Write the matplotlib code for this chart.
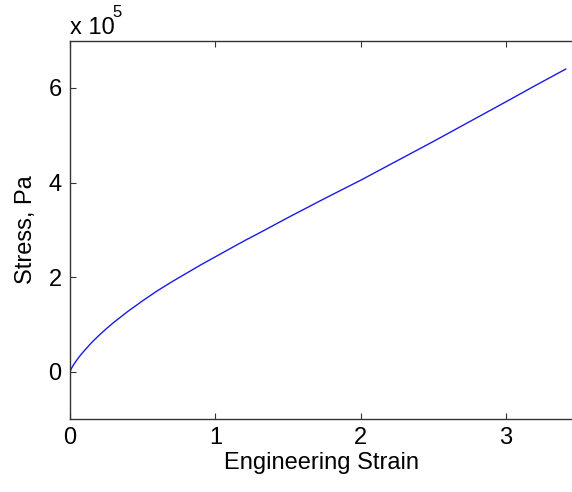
import matplotlib
matplotlib.use("Agg")
import matplotlib.pyplot as plt

# stress-strain curve (stress in units of 1e5 Pa)
strain = [0, 0.01, 0.025, 0.05, 0.075, 0.1, 0.15, 0.2, 0.25, 0.3, 0.4, 0.5,
          0.6, 0.7, 0.8, 0.9, 1.0, 1.1, 1.2, 1.3, 1.5, 1.75, 2.0, 2.25, 2.5,
          2.75, 3.0, 3.2, 3.41]
stress = [0, 0.07, 0.15, 0.26, 0.36, 0.45, 0.62, 0.77, 0.91, 1.04, 1.28, 1.50,
          1.71, 1.90, 2.08, 2.26, 2.43, 2.60, 2.77, 2.93, 3.26, 3.66, 4.05, 4.46,
          4.87, 5.29, 5.71, 6.05, 6.40]
xticks = [0, 1, 2, 3]
yticks = [0, 2, 4, 6]

plt.rcParams['font.family'] = ['Liberation Sans', 'DejaVu Sans']

fig = plt.figure(figsize=(5.72, 4.92), dpi=100)
# axes box ends right at the picture edge, like the cropped original
ax = fig.add_axes([70 / 572, 0.1484, 503 / 572, 0.7689])

ax.plot(strain, stress, color=(0.1, 0.1, 0.9), lw=1.0)

ax.set_xlim(0, 3.46)
ax.set_ylim(-1, 7)
ax.set_xticks(xticks)
ax.set_yticks(yticks)
ax.tick_params(direction='in', length=4, width=0.8, labelsize=17, pad=6,
               top=True, right=False, color='#333333')
for s in ax.spines.values():
    s.set_color('#333333')
    s.set_linewidth(1.0)
ax.spines['right'].set_visible(False)

ax.set_xlabel("Engineering Strain", fontsize=17, labelpad=2)
ax.set_ylabel("Stress, Pa", fontsize=17, labelpad=8)

fig.text(70 / 572, 1 - 34 / 492, "x 10", fontsize=17, ha='left', va='baseline')
fig.text(112 / 572, 1 - 17 / 492, "5", fontsize=12, ha='left', va='baseline')

fig.savefig("out.png", dpi=100)
